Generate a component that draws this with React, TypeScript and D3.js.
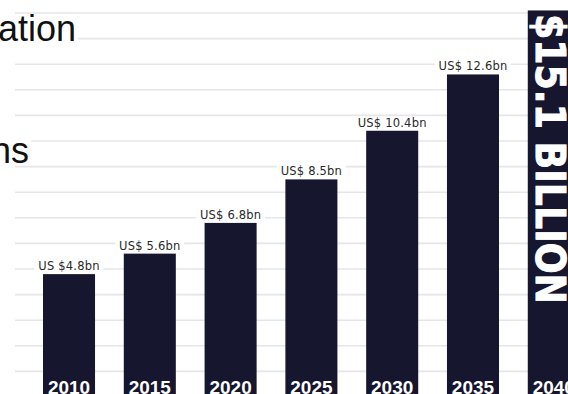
import React from "react";
import * as d3 from "d3";

const years = ["2010", "2015", "2020", "2025", "2030", "2035", "2040"];
const values = [4.8, 5.6, 6.8, 8.5, 10.4, 12.6, 15.1];
const valueLabels = ["US $4.8bn", "US$ 5.6bn", "US$ 6.8bn", "US$ 8.5bn", "US$ 10.4bn", "US$ 12.6bn", ""];
const highlightLabel = "$15.1 BILLION";
const gridTicks = d3.range(1, 16);
const titleFragments = ["ation", "ns"];

const W = 568;
const H = 394;
const BAR = "#17162f";

export default function App() {
  const x = d3.scaleBand<string>().domain(years).range([43, 579.8]).paddingInner(0.356).paddingOuter(0);
  const y = d3.scaleLinear().domain([0, 15]).range([397, 13]);
  const bw = x.bandwidth();
  const last = years.length - 1;

  return (
    <svg width={W} height={H} style={{ position: "fixed", left: 0, top: 0, background: "#fff" }}>
      <rect width={W} height={H} fill="#fff" />
      {gridTicks.map((t) => (
        <line key={t} x1={15} x2={W} y1={y(t)} y2={y(t)} stroke="#e6e6e6" strokeWidth={1.6} />
      ))}
      {/* title fragments */}
      <rect x={0} y={14} width={78} height={28} fill="#fff" />
      <text x={76} y={41} textAnchor="end" fontFamily="Liberation Sans, Arial, sans-serif" fontSize={36} fill="#111">
        {titleFragments[0]}
      </text>
      <rect x={0} y={136} width={31} height={27} fill="#fff" />
      <text x={29} y={163} textAnchor="end" fontFamily="Liberation Sans, Arial, sans-serif" fontSize={36} fill="#111">
        {titleFragments[1]}
      </text>
      {years.map((yr, i) => {
        const bx = x(yr)!;
        const top = y(values[i]);
        const cx = bx + bw / 2;
        const lw = valueLabels[i].length * 7.2 + 4;
        return (
          <g key={yr}>
            <rect x={bx} y={top} width={bw} height={H - top + 5} fill={BAR} />
            {valueLabels[i] && (
              <g>
                <rect x={cx - lw / 2} y={top - 14} width={lw} height={12} fill="#fff" />
                <text x={cx} y={top - 4} textAnchor="middle" fontFamily="DejaVu Sans, sans-serif" fontSize={11.5} fill="#2a2a2a" letterSpacing={0.2}>
                  {valueLabels[i]}
                </text>
              </g>
            )}
            <text x={cx} y={394} textAnchor="middle" fontFamily="Liberation Sans, Arial, sans-serif" fontWeight="bold" fontSize={19} fill="#fff">
              {yr}
            </text>
          </g>
        );
      })}
      <text
        transform={`translate(${x(years[last])! + 8},${14}) rotate(90)`}
        x={0}
        y={0}
        fontFamily="DejaVu Sans, sans-serif"
        fontWeight={900}
        fontSize={41}
        fill="#fff"
        stroke="#fff"
        strokeWidth={1}
        textLength={290}
        lengthAdjust="spacingAndGlyphs"
      >
        {highlightLabel}
      </text>
    </svg>
  );
}
